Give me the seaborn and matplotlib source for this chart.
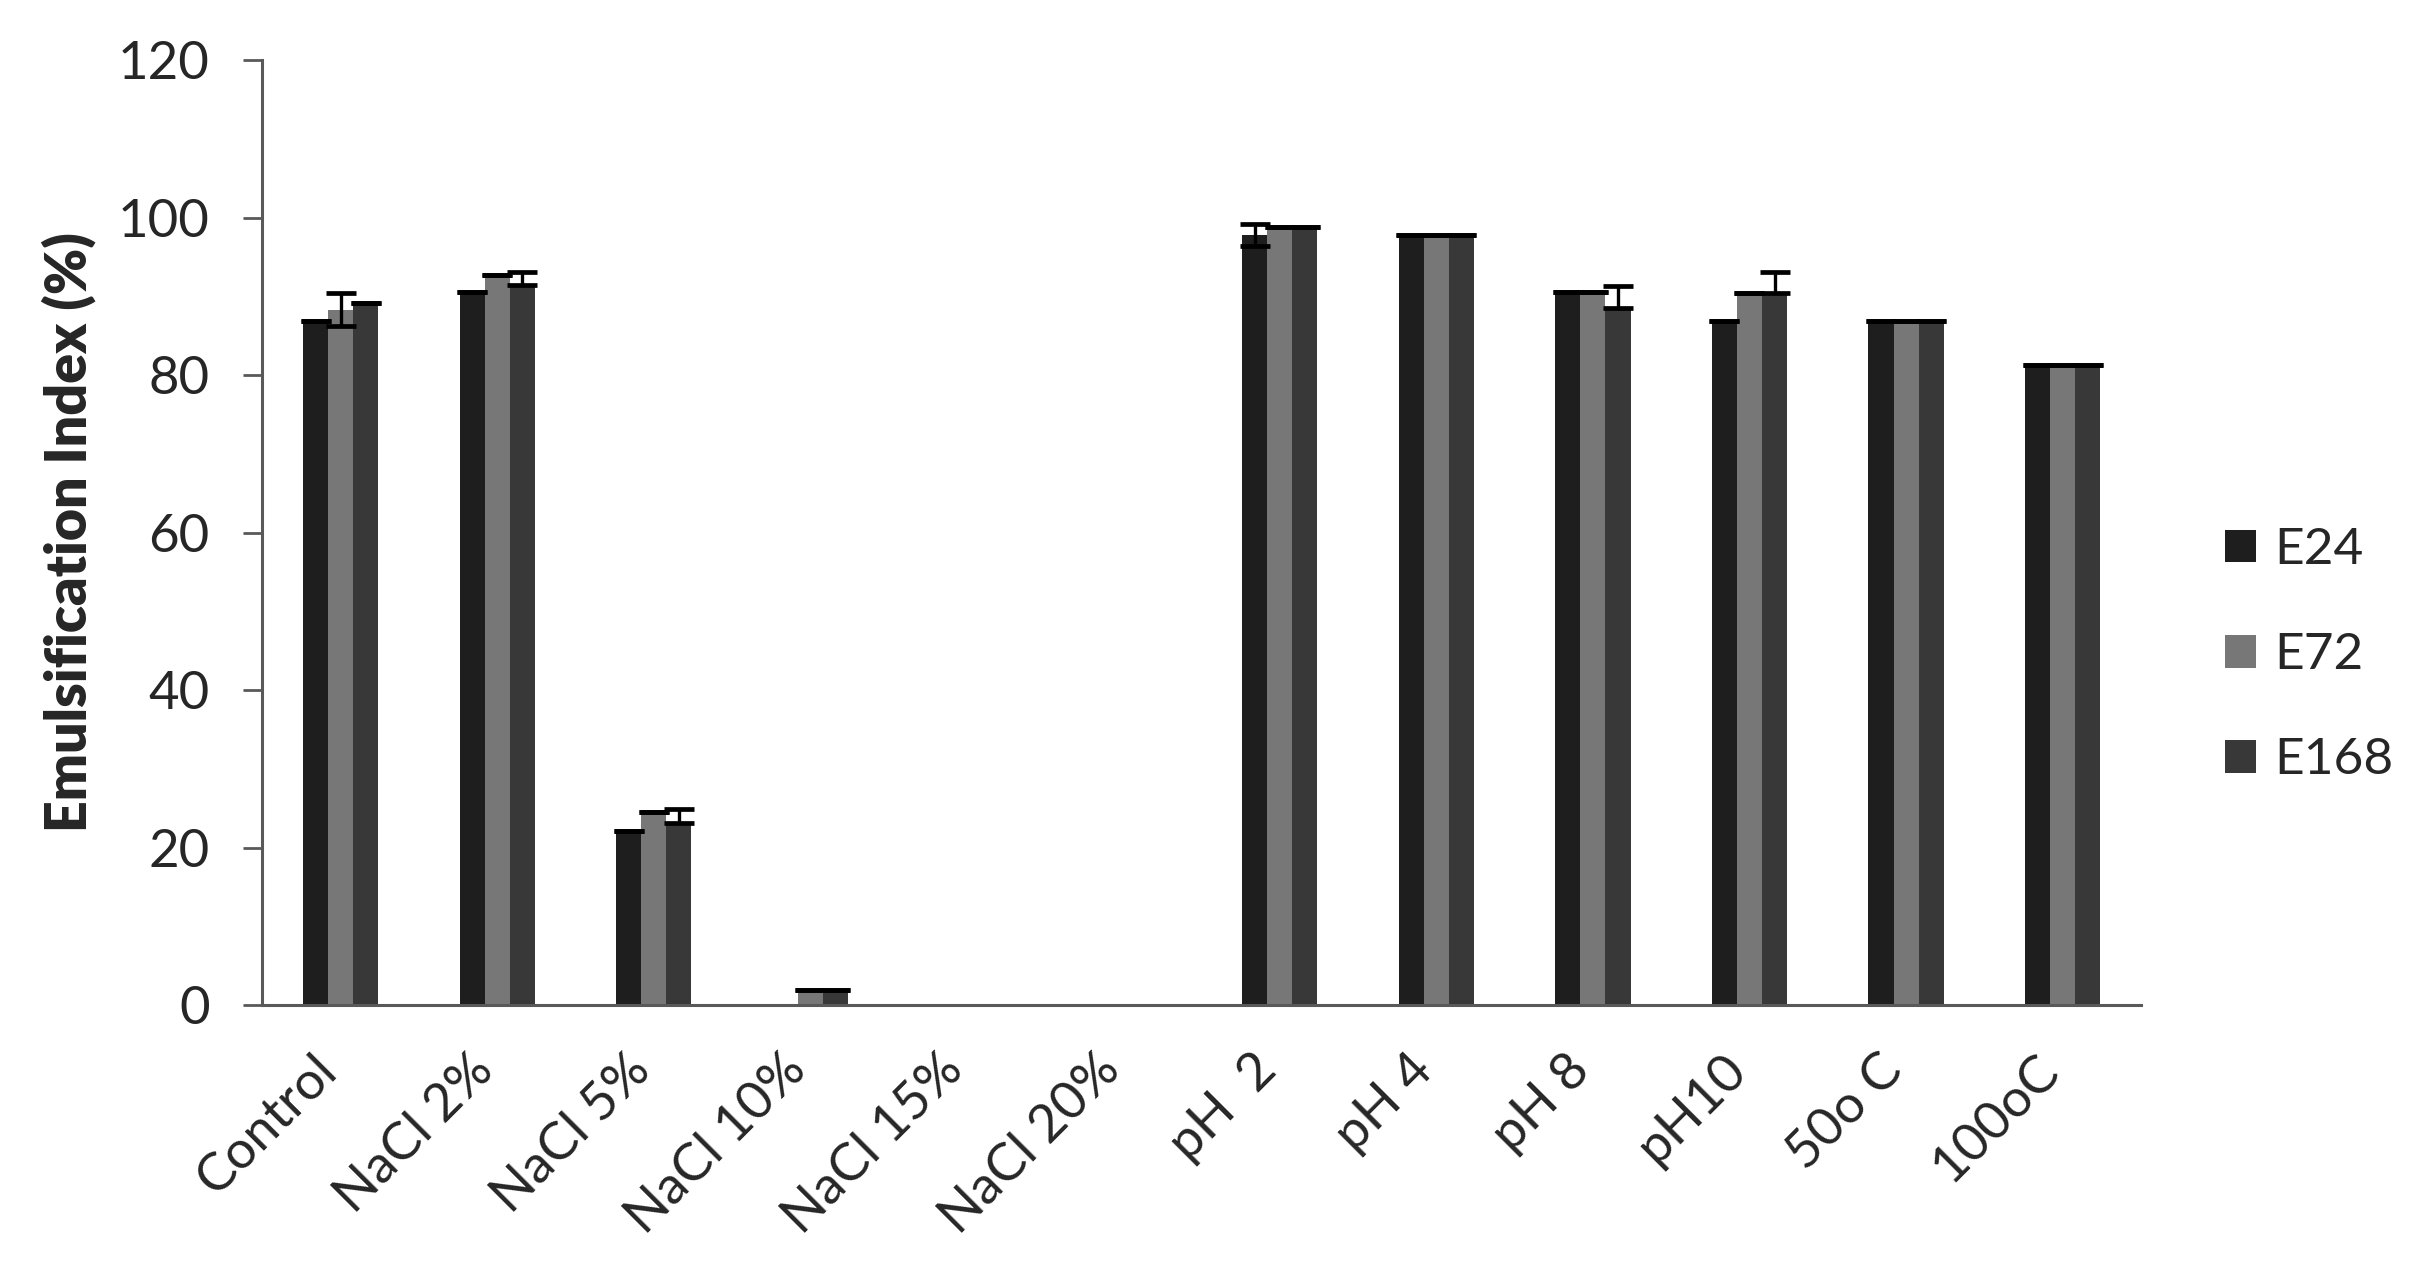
#!/usr/bin/env python3
"""
Emulsification index (E24 / E72 / E168) under salt, pH and temperature stress.
Grouped bar chart with Excel-style error bars.
"""
import pandas as pd
import matplotlib
matplotlib.use("Agg")
import matplotlib.pyplot as plt
import matplotlib.transforms as mtransforms
import seaborn as sns

# Data
conditions = ["Control", "NaCl 2%", "NaCl 5%", "NaCl 10%", "NaCl 15%", "NaCl 20%",
              "pH  2", "pH 4", "pH 8", "pH10", "50o C", "100oC"]
series = ["E24", "E72", "E168"]

e24 = [86.8, 90.5, 22.1, 0.0, 0.0, 0.0, 97.8, 97.8, 90.5, 86.8, 86.8, 81.3]
e72 = [88.3, 92.7, 24.5, 1.9, 0.0, 0.0, 98.8, 97.8, 90.5, 90.4, 86.8, 81.3]
e168 = [89.1, 91.4, 23.1, 1.9, 0.0, 0.0, 98.8, 97.8, 88.5, 90.4, 86.8, 81.3]

# error bars (lower, upper)
e24_err_lo = [0, 0, 0, 0, 0, 0, 1.4, 0, 0, 0, 0, 0]
e24_err_hi = [0, 0, 0, 0, 0, 0, 1.4, 0, 0, 0, 0, 0]
e72_err_lo = [2.1, 0, 0, 0, 0, 0, 0, 0, 0, 0, 0, 0]
e72_err_hi = [2.1, 0, 0, 0, 0, 0, 0, 0, 0, 0, 0, 0]
e168_err_lo = [0, 0, 0, 0, 0, 0, 0, 0, 0, 0, 0, 0]
e168_err_hi = [0, 1.7, 1.8, 0, 0, 0, 0, 0, 2.8, 2.7, 0, 0]

colors = ["#1e1e1e", "#777777", "#383838"]


def make_chart():
    values = {"E24": e24, "E72": e72, "E168": e168}
    errs = {"E24": (e24_err_lo, e24_err_hi),
            "E72": (e72_err_lo, e72_err_hi),
            "E168": (e168_err_lo, e168_err_hi)}

    df = pd.DataFrame([
        {"Condition": c, "Series": s, "Value": values[s][i]}
        for s in series for i, c in enumerate(conditions)
    ])

    sns.set_style("white")
    plt.rcParams["font.family"] = ["Lato", "DejaVu Sans"]

    fig = plt.figure(figsize=(24.3, 12.77), dpi=100)
    ax = fig.add_axes([0.108, 0.213, 0.773, 0.740])

    sns.barplot(data=df, x="Condition", y="Value", hue="Series",
                order=conditions, hue_order=series, palette=colors,
                width=0.48, gap=0, saturation=1, errorbar=None,
                linewidth=0, ax=ax)

    # error bars drawn on top of each bar (skip empty bars)
    for s, cont in zip(series, ax.containers):
        lo, hi = errs[s]
        for i, bar in enumerate(cont):
            v = values[s][i]
            if v <= 0:
                continue
            xc = bar.get_x() + bar.get_width() / 2
            ax.errorbar(xc, v, yerr=[[lo[i]], [hi[i]]], fmt="none",
                        ecolor="black", elinewidth=2.4, capsize=11,
                        capthick=3.4, zorder=5)

    ax.set_ylim(0, 120)
    ax.set_xlim(-0.5, len(conditions) - 0.5)
    ax.set_yticks(range(0, 121, 20))
    ax.set_xlabel("")
    ax.set_ylabel("Emulsification Index (%)", fontsize=40, fontweight="heavy",
                  labelpad=16)

    for side in ["top", "right"]:
        ax.spines[side].set_visible(False)
    for side in ["left", "bottom"]:
        ax.spines[side].set_color("#595959")
        ax.spines[side].set_linewidth(2.2)

    ax.tick_params(axis="y", length=14, width=2, color="#595959",
                   labelsize=38, pad=24, direction="out", left=True)
    ax.tick_params(axis="x", length=0, labelsize=38)

    # rotated category labels, anchored at their top-right end
    offset = mtransforms.ScaledTranslation(-28 / 100, -36 / 100, fig.dpi_scale_trans)
    for lab in ax.get_xticklabels():
        lab.set_rotation(45)
        lab.set_ha("right")
        lab.set_va("top")
        lab.set_rotation_mode("anchor")
        lab.set_transform(lab.get_transform() + offset)

    handles, labels = ax.get_legend_handles_labels()
    ax.legend(handles, labels, loc="center left", bbox_to_anchor=(1.045, 0.37),
              frameon=False, fontsize=37, handlelength=0.6, handleheight=0.6,
              handletextpad=0.35, labelspacing=1.15, borderpad=0, borderaxespad=0)

    fig.savefig("out.png", dpi=100, facecolor="white")


if __name__ == "__main__":
    make_chart()
